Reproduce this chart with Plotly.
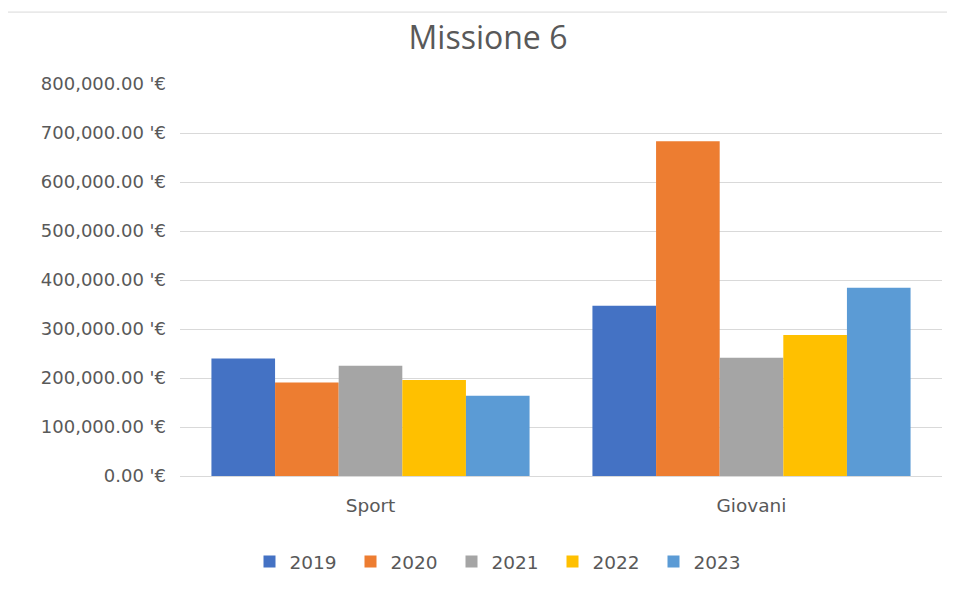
import plotly.graph_objects as go

categories = ["Sport", "Giovani"]
years = ["2019", "2020", "2021", "2022", "2023"]
values_2019 = [240000, 347500]
values_2020 = [191000, 683000]
values_2021 = [225000, 241500]
values_2022 = [196000, 288000]
values_2023 = [164000, 384000]
series = [values_2019, values_2020, values_2021, values_2022, values_2023]
colors = ["#4472C4", "#ED7D31", "#A5A5A5", "#FFC000", "#5B9BD5"]
tick_vals = [0, 100000, 200000, 300000, 400000, 500000, 600000, 700000, 800000]
tick_text = [f"{v:,.2f} '€" for v in tick_vals]

fig = go.Figure()
for yr, vals, col in zip(years, series, colors):
    fig.add_trace(go.Bar(name=yr, x=categories, y=vals, marker=dict(color=col, line=dict(width=0))))

OFF = 8  # page body margin
W, H = 955 - OFF, 592 - OFF
# target positions in screenshot pixels
L, R, T, B = 180, 942, 84, 476.5
ml, mr, mt, mb = L - OFF, W - (R - OFF), T - OFF, H - (B - OFF)
pw = W - ml - mr
ph = H - mt - mb

def px(x):
    return (x - OFF - ml) / pw

def py(y):
    return (H - mb - (y - OFF)) / ph

fig.update_layout(
    width=W, height=H,
    margin=dict(l=ml, r=mr, t=mt, b=mb, autoexpand=False),
    paper_bgcolor="white", plot_bgcolor="white",
    barmode="group", bargap=0.165, bargroupgap=0,
    font=dict(family="DejaVu Sans", color="#595959", size=18),
    title=dict(text="Missione 6", x=(488 - OFF) / W, xanchor="center", y=1 - (38 - OFF) / H, yanchor="middle",
               xref="container", yref="container",
               font=dict(family="Open Sans", size=32, color="#595959")),
    legend=dict(orientation="h", xref="container", yref="container", x=(502 - OFF) / W, xanchor="center",
                y=1 - (562 - OFF) / H, yanchor="middle", font=dict(family="DejaVu Sans", size=18.5, color="#595959"),
                itemwidth=30, entrywidth=56, traceorder="normal"),
    showlegend=True,
)
fig.update_yaxes(range=[0, 800000], tickvals=tick_vals, tickmode="array", ticktext=tick_text,
                 showgrid=True, gridcolor="#D9D9D9", gridwidth=1, zeroline=True, zerolinecolor="#D9D9D9",
                 zerolinewidth=1, ticklabelstandoff=13, showline=False, ticks="",
                 tickfont=dict(family="DejaVu Sans", size=18, color="#595959"))
fig.update_xaxes(showline=False, ticks="", ticklabelstandoff=16,
                 tickfont=dict(family="DejaVu Sans", size=18.5, color="#595959"))

fig.add_shape(type="rect", xref="paper", yref="paper",
              x0=px(4), x1=px(975), y0=py(12), y1=py(620),
              line=dict(color="#D9D9D9", width=1), fillcolor="rgba(0,0,0,0)", layer="below")

fig.write_html("out.html")
